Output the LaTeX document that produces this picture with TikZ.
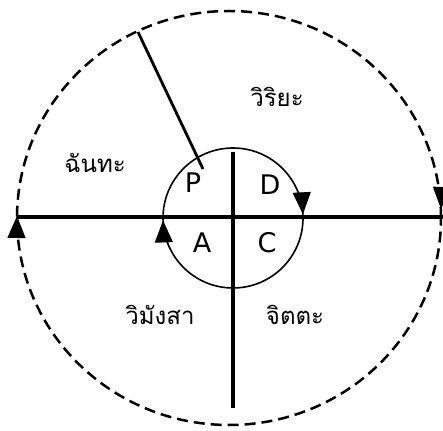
\documentclass[tikz,border=0pt]{standalone}
\usepackage{fontspec}
\newfontfamily\thaifont[Script=Thai]{Loma}
\setmainfont{DejaVu Sans}
\usetikzlibrary{arrows.meta}
\tikzset{
  thick line/.style={line width=3.2pt},
  thin circle/.style={line width=1.6pt},
  dash circle/.style={line width=2.5pt, dash pattern=on 11pt off 6pt},
  tip/.style={-{Triangle[length=22pt,width=18pt]}, line width=1.2pt},
  thai/.style={font=\thaifont\fontsize{24}{26}\selectfont, inner sep=0pt},
  letter/.style={font=\fontsize{27}{29}\selectfont, inner sep=0pt}
}
\begin{document}
\begin{tikzpicture}[x=1pt,y=1pt]
\useasboundingbox (0,0) rectangle (443,430);
\coordinate (o) at (233,212);
\coordinate (O) at (229,212);
% big dashed ellipse
\draw[dash circle] (O) ellipse [x radius=212, y radius=207];
% small circle
\draw[thin circle] (o) circle [radius=70];
% axes
\coordinate (hl) at (17,213);
\coordinate (hr) at (443,213);
\coordinate (vt) at (233,278);
\coordinate (vb) at (233,22);
\draw[thick line] (hl) -- (hr);
\draw[thick line] (vt) -- (vb);
% slanted line
\coordinate (s1) at (138,398);
\coordinate (s2) at (203,261);
\draw[line width=2.8pt] (s1) -- (s2);
% arrows on small circle
\draw[tip] (o) ++(22:70) arc[start angle=22, end angle=3, radius=70];
\draw[tip] (o) ++(206:70) arc[start angle=206, end angle=182, radius=70];
% arrows on big ellipse
\coordinate (ra1) at (441.8,240);
\coordinate (ra2) at (441,221);
\draw[tip] (ra1) -- (ra2);
\coordinate (la1) at (16.6,195);
\coordinate (la2) at (17,214);
\draw[tip] (la1) -- (la2);
% labels
\node[thai] (viriya) at (277,333) {วิริยะ};
\node[thai] (chanta) at (95,267) {ฉันทะ};
\node[thai] (vimansa) at (160,115) {วิมังสา};
\node[thai] (citta) at (295,115) {จิตตะ};
\node[letter] (P) at (193,247) {P};
\node[letter] (D) at (270,245) {D};
\node[letter] (A) at (202,187) {A};
\node[letter] (C) at (267,187) {C};
\end{tikzpicture}
\end{document}
